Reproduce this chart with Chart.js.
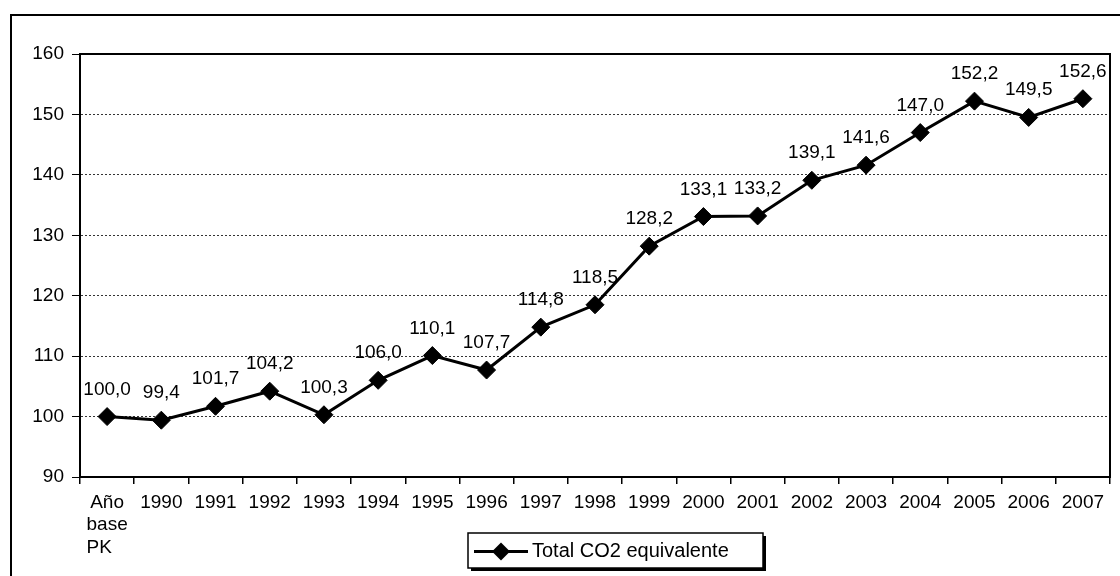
<!DOCTYPE html>
<html>
<head>
<meta charset="utf-8">
<script src="https://cdn.jsdelivr.net/npm/chart.js@4"></script>
<style>
  html, body { margin: 0; padding: 0; background: #fff; }
  #wrap { position: relative; width: 1120px; height: 576px; overflow: hidden; }
  #frame { position: absolute; left: 10px; top: 14px; width: 1200px; height: 700px;
           border-left: 2px solid #000; border-top: 2px solid #000; box-sizing: border-box; }
  canvas { position: absolute; left: 0; top: 0; }
</style>
</head>
<body>
<div id="wrap">
  <div id="frame"></div>
  <canvas id="c" width="1120" height="576"></canvas>
</div>
<script>
const categories = [['Año', 'base', 'PK   '], '1990', '1991', '1992', '1993', '1994', '1995', '1996',
  '1997', '1998', '1999', '2000', '2001', '2002', '2003', '2004', '2005', '2006', '2007'];
const totalCO2 = [100.0, 99.4, 101.7, 104.2, 100.3, 106.0, 110.1, 107.7, 114.8, 118.5,
  128.2, 133.1, 133.2, 139.1, 141.6, 147.0, 152.2, 149.5, 152.6];
const seriesName = 'Total CO2 equivalente';
const yTicks = [90, 100, 110, 120, 130, 140, 150, 160];

const FONT = "'Liberation Sans', Arial, sans-serif";

const plotBorder = {
  id: 'plotBorder',
  afterDraw(chart) {
    const { ctx, chartArea: a } = chart;
    ctx.save();
    ctx.strokeStyle = '#000';
    ctx.lineWidth = 2;
    ctx.strokeRect(a.left, a.top, a.right - a.left, a.bottom - a.top);
    ctx.restore();
  }
};

const dataLabels = {
  id: 'dataLabels',
  afterDatasetsDraw(chart) {
    const { ctx } = chart;
    const meta = chart.getDatasetMeta(0);
    const data = chart.data.datasets[0].data;
    ctx.save();
    ctx.font = '19px ' + FONT;
    ctx.fillStyle = '#000';
    ctx.textAlign = 'center';
    ctx.textBaseline = 'alphabetic';
    meta.data.forEach((pt, i) => {
      const txt = data[i].toFixed(1).replace('.', ',');
      ctx.fillText(txt, pt.x, pt.y - 22);
    });
    ctx.restore();
  }
};

const boxLegend = {
  id: 'boxLegend',
  afterDraw(chart) {
    const { ctx } = chart;
    const ds = chart.data.datasets[0];
    const x = 468, y = 533, w = 295, h = 35;
    ctx.save();
    ctx.fillStyle = '#000';
    ctx.fillRect(x + 3, y + 3, w, h);
    ctx.fillStyle = '#fff';
    ctx.fillRect(x, y, w, h);
    ctx.strokeStyle = '#000';
    ctx.lineWidth = 1.5;
    ctx.strokeRect(x, y, w, h);
    const cy = y + h / 2 + 1;
    ctx.lineWidth = 3;
    ctx.beginPath();
    ctx.moveTo(x + 6, cy);
    ctx.lineTo(x + 60, cy);
    ctx.stroke();
    ctx.fillStyle = '#000';
    ctx.beginPath();
    const cx = x + 33, r = 9;
    ctx.moveTo(cx - r, cy); ctx.lineTo(cx, cy - r); ctx.lineTo(cx + r, cy); ctx.lineTo(cx, cy + r);
    ctx.closePath();
    ctx.fill();
    ctx.font = '20px ' + FONT;
    ctx.textAlign = 'left';
    ctx.textBaseline = 'middle';
    ctx.fillText(ds.label, x + 64, cy);
    ctx.restore();
  }
};

new Chart(document.getElementById('c'), {
  type: 'line',
  data: {
    labels: categories,
    datasets: [{
      label: seriesName,
      data: totalCO2,
      borderColor: '#000',
      backgroundColor: '#000',
      borderWidth: 3,
      pointStyle: 'rectRot',
      pointRadius: 9,
      pointBorderWidth: 1,
      pointBackgroundColor: '#000',
      pointBorderColor: '#000',
      tension: 0,
      fill: false
    }]
  },
  options: {
    responsive: false,
    animation: false,
    events: [],
    layout: { padding: { left: 0, right: 5, top: 54, bottom: 0 } },
    plugins: { legend: { display: false }, tooltip: { enabled: false } },
    scales: {
      x: {
        type: 'category',
        offset: true,
        grid: { display: true, drawOnChartArea: false, drawTicks: true, tickLength: 7, offset: true, color: '#000', lineWidth: 1.5 },
        border: { display: true, color: '#000', width: 2 },
        ticks: {
          autoSkip: false, maxRotation: 0, minRotation: 0, padding: 7, color: '#000',
          font: { family: FONT, size: 19, lineHeight: 1.2 }
        },
        afterFit(scale) { scale.height = 99; }
      },
      y: {
        min: 90, max: 160,
        afterBuildTicks(scale) { scale.ticks = yTicks.map(v => ({ value: v })); },
        grid: { color: '#333', lineWidth: 1, tickLength: 8, drawTicks: true, tickColor: '#000', tickBorderDash: [] },
        border: { display: true, color: '#000', width: 2, dash: [2, 2] },
        ticks: { padding: 8, color: '#000', font: { family: FONT, size: 19 } },
        afterFit(scale) { scale.width = 80; }
      }
    }
  },
  plugins: [plotBorder, dataLabels, boxLegend]
});
</script>
</body>
</html>
